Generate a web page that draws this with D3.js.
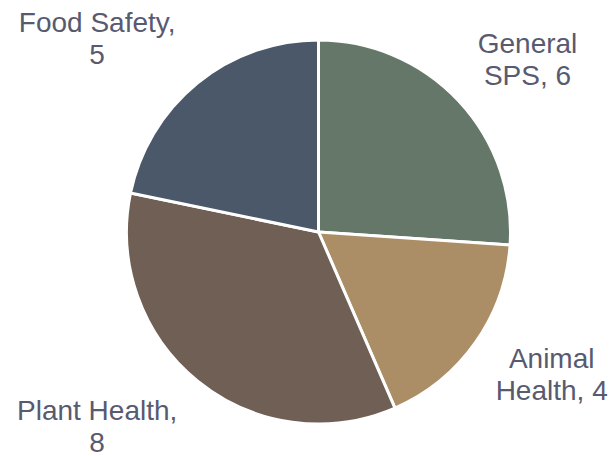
<!DOCTYPE html>
<html>
<head>
  <script src="https://d3js.org/d3.v7.min.js"></script>
  <style>
    body{ margin:0; background:#fff; }
    .label{ font-family:"Liberation Sans", Arial, sans-serif; font-size:28px; fill:#585a70; }
  </style>
</head>
<body>
  <svg width='614' height='456' id='chart'></svg>
  <script>
    var categories = ["General SPS", "Animal Health", "Plant Health", "Food Safety"];
    var values = [6, 4, 8, 5];
    var colors = ["#647769", "#ab8e66", "#705f55", "#4a5869"];
    // label lines, as shown in the picture
    var labelLines = [["General", "SPS, 6"], ["Animal", "Health, 4"], ["Plant Health,", "8"], ["Food Safety,", "5"]];

    var svg = d3.select("svg#chart");
    var cx = 318.5, cy = 232, radius = 192;

    var data = categories.map(function(c, i){ return {name:c, value:values[i], color:colors[i], lines:labelLines[i]}; });

    var pie = d3.pie().sort(null).value(function(d){ return d.value; });
    var arc = d3.arc().innerRadius(0).outerRadius(radius);

    var g = svg.append("g").attr("transform", "translate(" + cx + "," + cy + ")");

    g.selectAll("path")
      .data(pie(data))
      .enter().append("path")
      .attr("d", arc)
      .attr("fill", function(d){ return d.data.color; })
      .attr("stroke", "#fff")
      .attr("stroke-width", 3)
      .attr("stroke-linejoin", "round");

    //labels sit outside the pie, near each slice's middle angle
    var labelArc = d3.arc().innerRadius(radius * 1.34).outerRadius(radius * 1.34);
    var offsets = [[21, -3], [23, -12], [-59, -12], [-59, 0]];

    g.selectAll("text.label")
      .data(pie(data))
      .enter().append("text")
      .attr("class", "label")
      .attr("text-anchor", "middle")
      .each(function(d, i){
        var c = labelArc.centroid(d);
        var t = d3.select(this);
        d.data.lines.forEach(function(line, j){
          t.append("tspan")
            .attr("x", c[0] + offsets[i][0])
            .attr("y", c[1] + offsets[i][1] + j * 32)
            .text(line);
        });
      });
  </script>
</body>
</html>
